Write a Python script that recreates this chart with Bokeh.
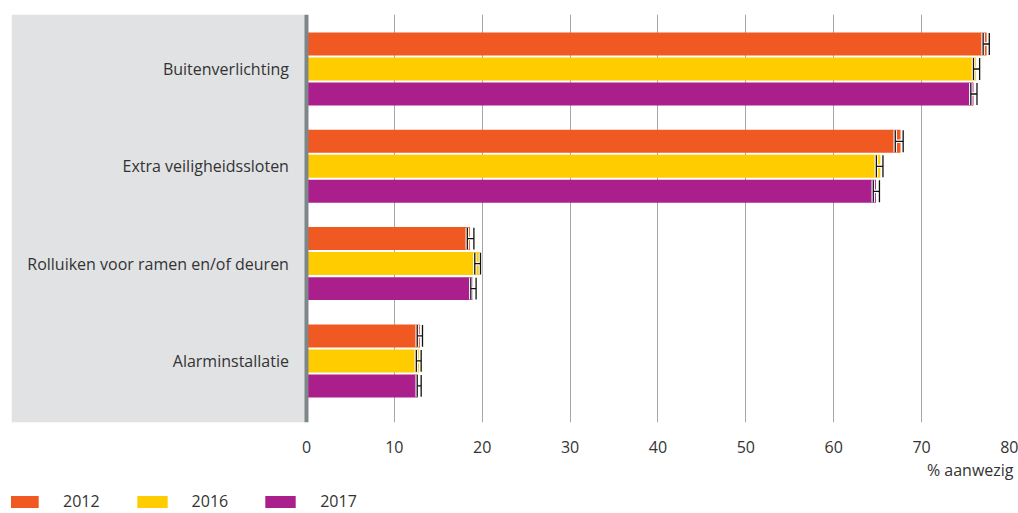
from bokeh.plotting import figure
from bokeh.layouts import column
from bokeh.models import (Range1d, FixedTicker, BoxAnnotation, Span, Title, Legend,
                          LegendItem, ColumnDataSource)
from bokeh.core.properties import value
from bokeh.embed import file_html
from bokeh.resources import INLINE

categories = ["Buitenverlichting", "Extra veiligheidssloten",
              "Rolluiken voor ramen en/of deuren", "Alarminstallatie"]
years = ["2012", "2016", "2017"]
v2012 = [77.4, 67.6, 18.6, 12.9]
v2016 = [76.2, 65.3, 19.8, 12.8]
v2017 = [75.9, 64.8, 18.9, 12.7]
lo2012 = [77.0, 67.0, 18.3, 12.6]
hi2012 = [77.7, 67.9, 19.05, 13.2]
lo2016 = [75.9, 64.85, 19.15, 12.5]
hi2016 = [76.6, 65.6, 19.8, 13.05]
lo2017 = [75.6, 64.5, 18.7, 12.6]
hi2017 = [76.3, 65.2, 19.3, 13.05]
x_ticks = [0, 10, 20, 30, 40, 50, 60, 70, 80]
colors = ["#f05a22", "#ffcc00", "#ab1f8d"]

FONT = "Open Sans"
FS = "16px"
TXT = "#333333"

p = figure(width=1018, height=483, output_backend="svg", toolbar_location=None,
           x_range=Range1d(-33.57, 80), y_range=Range1d(3.633, -0.56),
           min_border_left=11, min_border_right=9, min_border_top=14, min_border_bottom=61)
p.outline_line_color = None
p.yaxis.visible = False
p.ygrid.visible = False
p.xaxis.ticker = FixedTicker(ticks=x_ticks)
p.xgrid.ticker = FixedTicker(ticks=x_ticks[1:])
p.xgrid.grid_line_color = "#a6a6a6"
p.xgrid.grid_line_width = 1
p.xaxis.axis_line_color = None
p.xaxis.major_tick_line_color = None
p.xaxis.minor_tick_line_color = None
p.xaxis.major_label_standoff = 12
p.xaxis.major_label_text_font = FONT
p.xaxis.major_label_text_font_size = FS
p.xaxis.major_label_text_color = TXT

panel = BoxAnnotation(right=0, fill_color="#e1e2e4", fill_alpha=1, line_color=None,
                      level="underlay")
p.add_layout(panel)

idx = list(range(len(categories)))
offsets = [-0.257, 0.0, 0.257]
bar_h = 0.236
cap_h = 0.225
vals = [v2012, v2016, v2017]
los = [lo2012, lo2016, lo2017]
his = [hi2012, hi2016, hi2017]
for k in range(3):
    ys = [i + offsets[k] for i in idx]
    src = ColumnDataSource(dict(y=ys, right=vals[k], lo=los[k], hi=his[k],
                                y0=[y - cap_h / 2 for y in ys],
                                y1=[y + cap_h / 2 for y in ys]))
    p.hbar(y="y", left=0, right="right", height=bar_h, source=src,
           fill_color=colors[k], line_color=None)
    for lw, lc in ((3.5, "white"), (1.3, "#111111")):
        p.segment(x0="lo", x1="hi", y0="y", y1="y", source=src, line_color=lc, line_width=lw)
        p.segment(x0="lo", x1="lo", y0="y0", y1="y1", source=src, line_color=lc, line_width=lw)
        p.segment(x0="hi", x1="hi", y0="y0", y1="y1", source=src, line_color=lc, line_width=lw)

p.text(x=[-2.0] * len(idx), y=idx, text=categories, text_align="right",
       text_baseline="middle", text_font=value(FONT), text_font_size=FS,
       text_color=TXT)

p.add_layout(Span(location=0, dimension="height", line_color="#7f868a", line_width=4))

p.add_layout(Title(text="% aanwezig", align="right", offset=-4, standoff=2,
                   text_font=FONT, text_font_size=FS, text_font_style="normal",
                   text_color=TXT), "below")

# legend strip
lg = figure(width=1018, height=30, output_backend="svg", toolbar_location=None,
            x_range=Range1d(0, 1), y_range=Range1d(0, 1),
            min_border_left=0, min_border_right=0, min_border_top=0, min_border_bottom=0)
lg.outline_line_color = None
lg.axis.visible = False
lg.grid.visible = False
leg_renderers = [lg.rect(x=[-5], y=[-5], width=0.1, height=0.1,
                         fill_color=colors[k], line_color=None)
                 for k in range(3)]
legend = Legend(items=[LegendItem(label=years[k], renderers=[leg_renderers[k]]) for k in range(3)],
                orientation="horizontal", location=(-7, 1),
                glyph_width=38, glyph_height=15, label_standoff=21, spacing=33,
                padding=0, margin=0, border_line_color=None, background_fill_alpha=0,
                label_text_font=FONT, label_text_font_size=FS,
                label_text_color=TXT, label_height=15)
lg.add_layout(legend)

layout = column(p, lg, spacing=0)

with open("out.html", "w") as f:
    f.write(file_html(layout, INLINE))
